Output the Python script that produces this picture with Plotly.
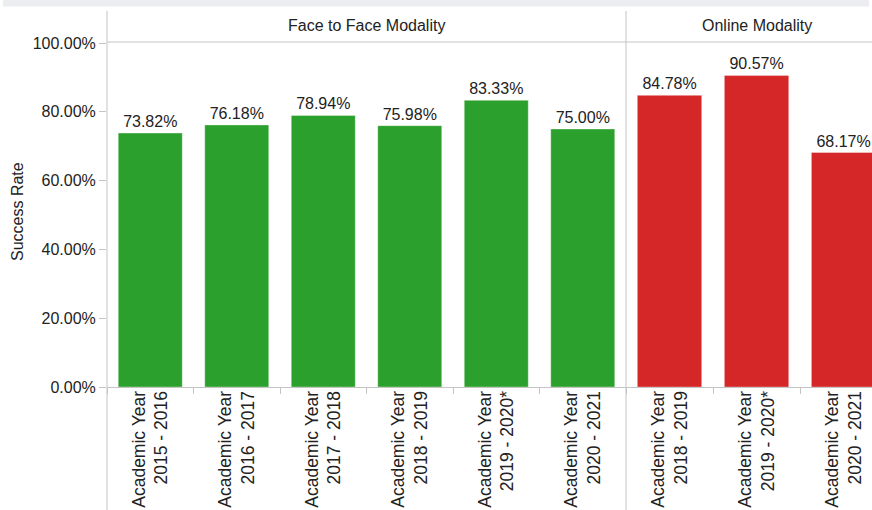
import plotly.graph_objects as go

# Success rates (percent) by academic year, split by course modality
ftf_years = ["Academic Year<br>2015 - 2016", "Academic Year<br>2016 - 2017",
             "Academic Year<br>2017 - 2018", "Academic Year<br>2018 - 2019",
             "Academic Year<br>2019 - 2020*", "Academic Year<br>2020 - 2021"]
ftf_rates = [73.82, 76.18, 78.94, 75.98, 83.33, 75.00]

online_years = ["Academic Year<br>2018 - 2019", "Academic Year<br>2019 - 2020*",
                "Academic Year<br>2020 - 2021"]
online_rates = [84.78, 90.57, 68.17]

panel_titles = ["Face to Face Modality", "Online Modality"]
y_ticks = [0, 20, 40, 60, 80, 100]

FONT = "Liberation Sans, Arial, sans-serif"
TXT = "#222222"
LINE = "#c4c4c4"
GREEN = "#2ca02c"
RED = "#d62728"

W, H = 872, 510
L, T, B = 107, 43, 123          # plot area: x 107..872, y 43..387
split = (626 - L) / (W - L)      # boundary between the two panels


def py(pix):
    """pixel row -> paper y"""
    return (H - B - pix) / (H - T - B)


def px(pix):
    """pixel column -> paper x"""
    return (pix - L) / (W - L)


fig = go.Figure()
fig.add_trace(go.Bar(
    x=ftf_years, y=ftf_rates, xaxis="x", yaxis="y",
    marker=dict(color=GREEN, line=dict(color="rgba(255,255,255,0.35)", width=1)),
    texttemplate="%{y:.2f}%", textposition="outside", cliponaxis=False,
    textfont=dict(family=FONT, size=16, color=TXT), showlegend=False,
    hovertemplate="%{x}: %{y:.2f}%<extra></extra>",
))
fig.add_trace(go.Bar(
    x=online_years, y=online_rates, xaxis="x2", yaxis="y",
    marker=dict(color=RED, line=dict(color="rgba(255,255,255,0.35)", width=1)),
    texttemplate="%{y:.2f}%", textposition="outside", cliponaxis=False,
    textfont=dict(family=FONT, size=16, color=TXT), showlegend=False,
    hovertemplate="%{x}: %{y:.2f}%<extra></extra>",
))

xcommon = dict(
    type="category", tickson="boundaries", ticks="outside", ticklen=6,
    tickcolor=LINE, showline=True, linecolor=LINE, linewidth=1,
    showgrid=False, zeroline=False, tickangle=-90, anchor="y",
    ticklabelstandoff=-4,
    tickfont=dict(family=FONT, size=17.5, color=TXT),
)

fig.update_layout(
    width=W, height=H,
    margin=dict(l=L, r=0, t=T, b=B, autoexpand=False),
    paper_bgcolor="white", plot_bgcolor="white",
    bargap=0.26,
    font=dict(family=FONT, size=16, color=TXT),
    xaxis=dict(domain=[0, split], range=[-0.5, 5.5], **xcommon),
    xaxis2=dict(domain=[split, 1], range=[-0.5, 2.5 - (887 - W) / 86.5], **xcommon),
    yaxis=dict(
        range=[0, 100], tickvals=y_ticks,
        ticktext=[f"{v:.2f}%" for v in y_ticks],
        ticks="outside", ticklen=7, tickcolor=LINE,
        showline=False, showgrid=False, zeroline=False,
        tickfont=dict(family=FONT, size=16, color=TXT),
    ),
)

shapes = [
    # light band along the top edge
    dict(type="rect", xref="paper", yref="paper", x0=px(3), x1=px(869),
         y0=py(0), y1=py(6.5), fillcolor="#ebedf1", line=dict(width=0), layer="below"),
    # panel header underline
    dict(type="line", xref="paper", yref="paper", x0=0, x1=1,
         y0=py(42), y1=py(42), line=dict(color=LINE, width=1)),
    # left frame line and panel divider
    dict(type="line", xref="paper", yref="paper", x0=0, x1=0,
         y0=py(11), y1=py(H), line=dict(color=LINE, width=1)),
    dict(type="line", xref="paper", yref="paper", x0=split, x1=split,
         y0=py(11), y1=py(H), line=dict(color=LINE, width=1)),
]
fig.update_layout(shapes=shapes)

annotations = [
    dict(text=panel_titles[0], xref="paper", yref="paper",
         x=split / 2, y=py(26), xanchor="center", yanchor="middle",
         showarrow=False, font=dict(family=FONT, size=16, color=TXT)),
    dict(text=panel_titles[1], xref="paper", yref="paper",
         x=px((626 + 887) / 2), y=py(26), xanchor="center", yanchor="middle",
         showarrow=False, font=dict(family=FONT, size=16, color=TXT)),
    dict(text="Success Rate", xref="paper", yref="paper",
         x=px(17), y=py(212), xanchor="center", yanchor="middle",
         textangle=-90, showarrow=False,
         font=dict(family=FONT, size=16, color=TXT)),
]
fig.update_layout(annotations=annotations)

fig.write_html("out.html")
